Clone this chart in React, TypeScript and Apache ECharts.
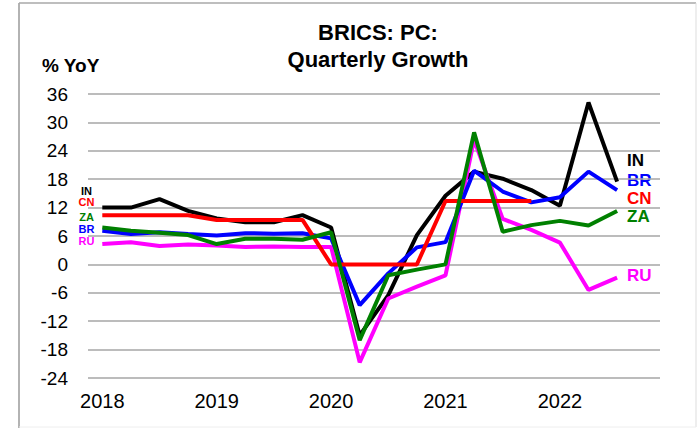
import React, { useEffect, useRef } from "react";
import * as echarts from "echarts";

const quarters = [
  "2018Q1","2018Q2","2018Q3","2018Q4",
  "2019Q1","2019Q2","2019Q3","2019Q4",
  "2020Q1","2020Q2","2020Q3","2020Q4",
  "2021Q1","2021Q2","2021Q3","2021Q4",
  "2022Q1","2022Q2","2022Q3","2022Q4",
];

const inValues = [12.0, 12.0, 13.8, 11.3, 9.7, 8.9, 8.9, 10.4, 7.8, -15.0, -6.5, 6.2, 14.5, 19.6, 18.1, 15.7, 12.4, 34.2, 17.5];
const ruValues = [4.3, 4.7, 3.9, 4.2, 4.0, 3.7, 3.8, 3.7, 3.7, -20.7, -7.2, -4.7, -2.3, 26.3, 9.6, 7.3, 4.6, -5.4, -2.8];
const brValues = [7.1, 6.4, 6.8, 6.4, 6.1, 6.6, 6.5, 6.6, 5.5, -8.6, -1.9, 3.6, 4.7, 19.8, 15.4, 13.1, 14.2, 19.6, 15.7];
const cnValues = [10.4, 10.4, 10.4, 10.4, 9.4, 9.4, 9.4, 9.4, 0, 0, 0, 0, 13.4, 13.4, 13.4, 13.4];
const zaValues = [7.8, 7.1, 6.7, 6.2, 4.3, 5.4, 5.4, 5.2, 6.8, -16.0, -2.3, -1.1, 0, 27.9, 6.9, 8.3, 9.2, 8.2, 11.3];

const seriesNames = ["IN", "RU", "BR", "CN", "ZA"];
const seriesColors = ["#000000", "#ff00ff", "#0000ff", "#ff0000", "#008000"];
const seriesData = [inValues, ruValues, brValues, cnValues, zaValues];

const FONT = "Arial, 'Liberation Sans', sans-serif";

export default function App() {
  const ref = useRef<HTMLDivElement>(null);

  useEffect(() => {
    document.body.style.margin = "0";
    if (!ref.current) return;
    const chart = echarts.init(ref.current, undefined, { renderer: "svg" });

    const rightLabels = [
      { name: "IN", y: 160 },
      { name: "BR", y: 180 },
      { name: "CN", y: 198 },
      { name: "ZA", y: 216 },
      { name: "RU", y: 275 },
    ];
    const leftLabels = [
      { name: "IN", y: 190.5 },
      { name: "CN", y: 202 },
      { name: "ZA", y: 217 },
      { name: "BR", y: 229 },
      { name: "RU", y: 241 },
    ];
    const colorOf = (n: string) => seriesColors[seriesNames.indexOf(n)];

    chart.setOption({
      animation: false,
      backgroundColor: "#ffffff",
      title: {
        text: "BRICS: PC:\nQuarterly Growth",
        left: 373,
        top: 14,
        textAlign: "center",
        textStyle: {
          fontFamily: FONT,
          fontSize: 22,
          fontWeight: "bold",
          lineHeight: 27,
          color: "#000",
        },
      },
      grid: { left: 88, right: 37, top: 94, bottom: 50 },
      xAxis: {
        type: "category",
        data: quarters,
        boundaryGap: true,
        axisLine: { show: false },
        axisTick: { show: false },
        splitLine: { show: false },
        axisLabel: {
          interval: 3,
          formatter: (v: string) => v.slice(0, 4),
          fontFamily: FONT,
          fontSize: 20,
          color: "#000",
          margin: 13,
        },
      },
      yAxis: {
        type: "value",
        min: -24,
        max: 36,
        interval: 6,
        axisLine: { show: false },
        axisTick: { show: false },
        splitLine: { show: true, lineStyle: { color: "#a6a6a6", width: 1.5 } },
        axisLabel: {
          fontFamily: FONT,
          fontSize: 19,
          color: "#000",
          margin: 20,
        },
      },
      series: seriesNames.map((name, i) => ({
        name,
        type: "line",
        data: seriesData[i],
        symbol: "none",
        smooth: false,
        lineStyle: { color: seriesColors[i], width: 4 },
        itemStyle: { color: seriesColors[i] },
        z: 2 + i,
      })),
      graphic: [
        { type: "line", shape: { x1: 19, y1: 3, x2: 19, y2: 428 }, style: { stroke: "#9a9a9a", lineWidth: 1.5 } },
        { type: "line", shape: { x1: 19, y1: 3, x2: 696, y2: 3 }, style: { stroke: "#a8a8a8", lineWidth: 1.5 } },
        { type: "line", shape: { x1: 696, y1: 3, x2: 696, y2: 427 }, style: { stroke: "#dddddd", lineWidth: 1 } },
        { type: "line", shape: { x1: 19, y1: 427, x2: 696, y2: 427 }, style: { stroke: "#eeeeee", lineWidth: 1 } },
        {
          type: "text",
          x: 42,
          y: 65,
          style: {
            text: "% YoY",
            fontFamily: FONT,
            fontSize: 19,
            fontWeight: "bold",
            fill: "#000",
            textVerticalAlign: "middle",
          },
        },
        ...rightLabels.map((l) => ({
          type: "text",
          x: 627,
          y: l.y,
          style: {
            text: l.name,
            fontFamily: FONT,
            fontSize: 17,
            lineHeight: 17,
            fontWeight: "bold",
            fill: colorOf(l.name),
            textVerticalAlign: "middle",
          },
        })),
        ...leftLabels.map((l) => ({
          type: "text",
          x: 86.5,
          y: l.y,
          style: {
            text: l.name,
            fontFamily: FONT,
            fontSize: 11,
            fontWeight: "bold",
            fill: colorOf(l.name),
            textAlign: "center",
            textVerticalAlign: "middle",
          },
        })),
      ],
    });

    return () => chart.dispose();
  }, []);

  return <div ref={ref} style={{ width: 697, height: 428 }} />;
}
